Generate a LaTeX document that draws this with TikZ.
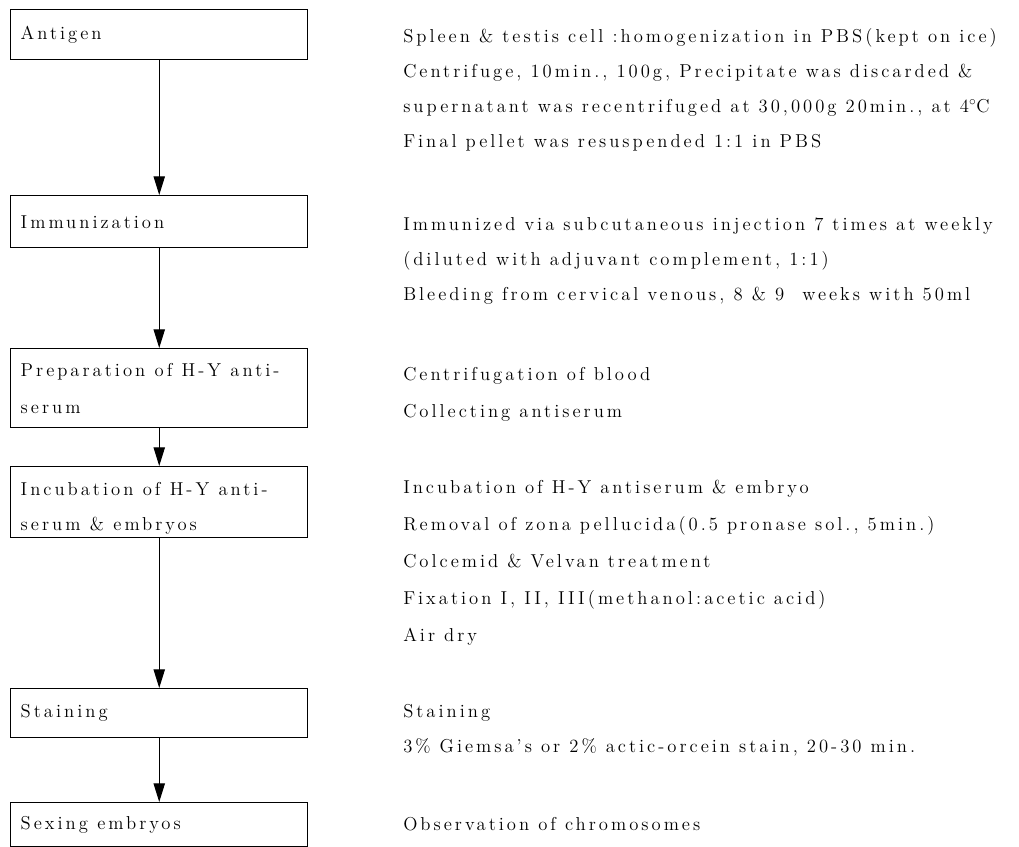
\documentclass[tikz,border=0pt]{standalone}
\usepackage{fontspec}
\setmainfont{Latin Modern Roman}[LetterSpace=16]
\usetikzlibrary{arrows.meta, positioning}
\newcommand{\flowfont}{\fontsize{14pt}{26.25pt}\selectfont}
\newcommand{\wideflowfont}{\fontsize{14pt}{27.75pt}\selectfont}
\tikzset{
  stepbox/.style={rectangle, draw, line width=1.1pt, anchor=north west,
    text width=207.75pt, inner xsep=7.5pt, inner ysep=0pt, align=left,
    font=\flowfont, execute at begin node={\setlength{\spaceskip}{7pt}}},
  note/.style={anchor=base west, align=left, inner sep=0pt, font=\flowfont},
  arrow/.style={-{Triangle[length=14pt, width=8.5pt]}, line width=0.8pt}
}

\begin{document}
\begin{tikzpicture}[x=0.75pt, y=-0.75pt]
  \useasboundingbox (0,0) rectangle (1019,846);

  % steps
  \node[stepbox, minimum height=37.5pt]  (antigen) at (10,9)   {Antigen};
  \node[stepbox, minimum height=39pt]    (immun)   at (10,195) {Immunization};
  \node[stepbox, minimum height=59.25pt, font=\wideflowfont] (prep) at (10,348)
    {Preparation of H-Y anti-\\serum};
  \node[stepbox, minimum height=53.25pt, text height=19pt] (incub) at (10,466)
    {Incubation of H-Y anti-\\serum \& embryos};
  \node[stepbox, minimum height=36.75pt] (stain)   at (10,688) {Staining};
  \node[stepbox, minimum height=33pt]    (sexing)  at (10,802) {Sexing embryos};

  \draw[arrow] (antigen) -- (immun);
  \draw[arrow] (immun) -- (prep);
  \draw[arrow] (prep) -- (incub);
  \draw[arrow] (incub) -- (stain);
  \draw[arrow] (stain) -- (sexing);

  % details (placed at the baseline of their last line)
  \node[note] (antigennote) at (403,147)
    {Spleen \& testis cell :homogenization in PBS\,(kept on ice)\\
     Centrifuge, 10\,min., 100g, Precipitate was discarded \&\\
     supernatant was recentrifuged at 30,000g 20min., at 4$^{\circ}$C\\
     Final pellet was resuspended 1:1 in PBS};
  \node[note] (immunnote) at (403,300)
    {Immunized via subcutaneous injection 7 times at weekly\\
     (diluted with adjuvant complement, 1:1)\\
     Bleeding from cervical venous, 8 \& 9\ \ weeks with 50ml};
  \node[note, font=\wideflowfont] (prepnote) at (403,417)
    {Centrifugation of blood\\
     Collecting antiserum};
  \node[note, font=\wideflowfont] (incubnote) at (403,641)
    {Incubation of H-Y antiserum \& embryo\\
     Removal of zona pellucida\,(0.5 pronase sol., 5min.)\\
     Colcemid \& Velvan treatment\\
     Fixation I, II, III\,(methanol\,:acetic acid)\\
     Air dry};
  \node[note] (stainnote) at (403,752)
    {Staining\\
     3\% Giemsa's or 2\% actic-orcein stain, 20-30 min.};
  \node[note] (sexingnote) at (403,830) {Observation of chromosomes};
\end{tikzpicture}
\end{document}
